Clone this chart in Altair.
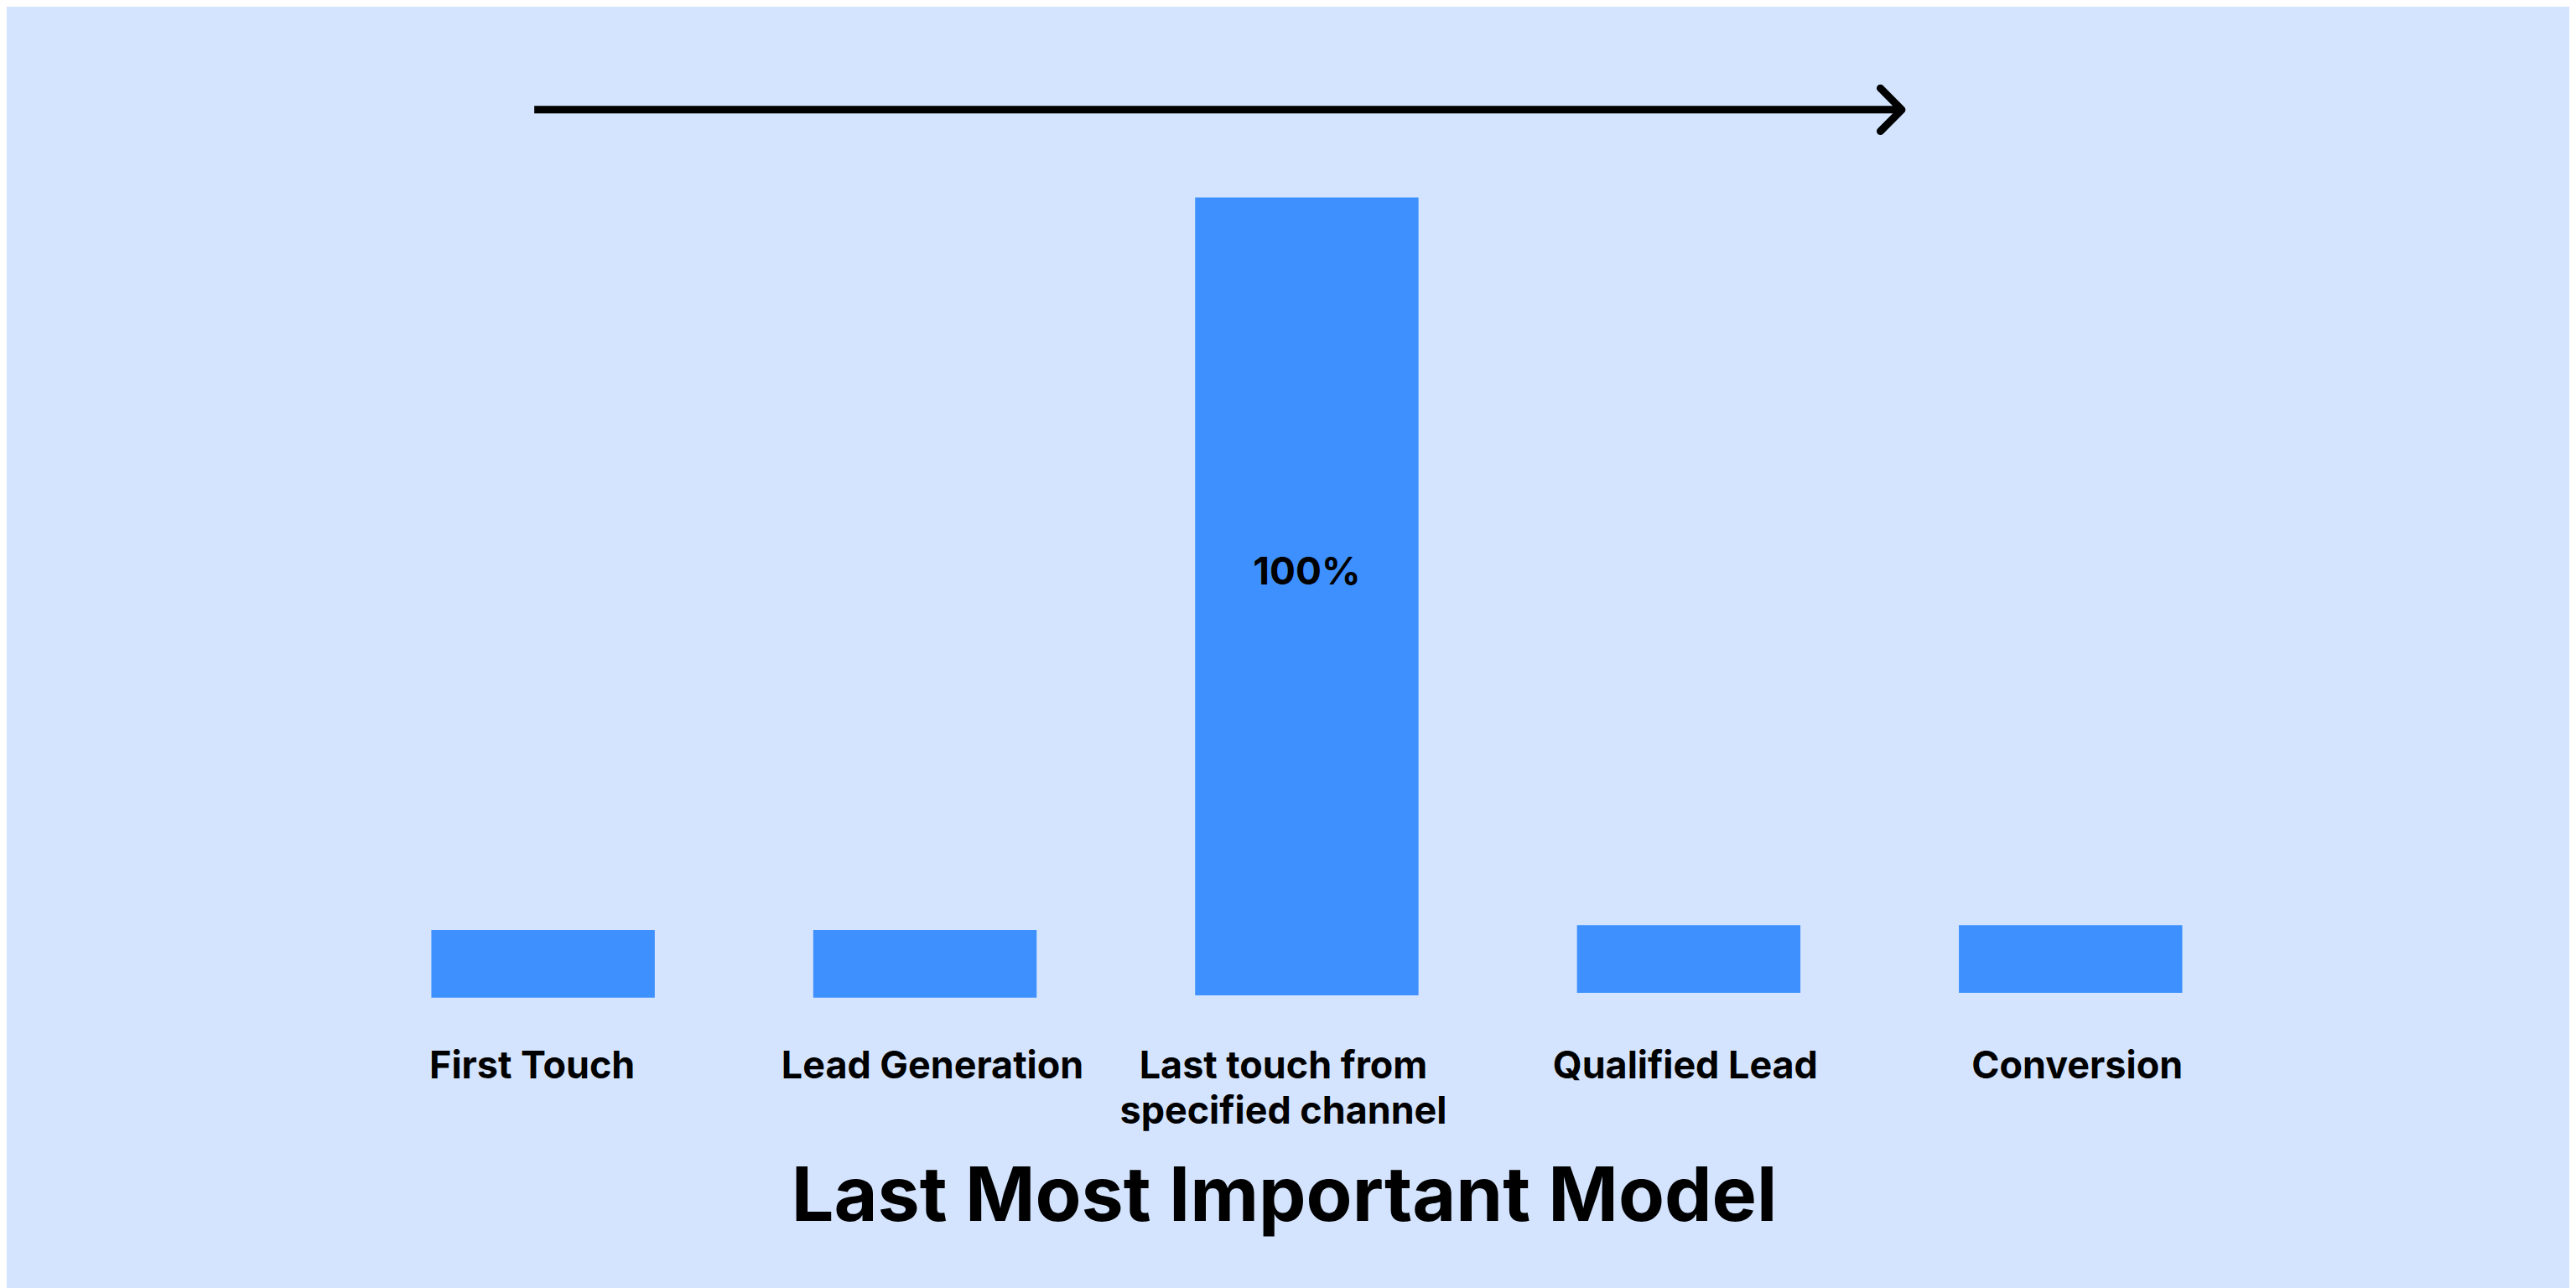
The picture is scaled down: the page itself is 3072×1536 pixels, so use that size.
import altair as alt
import pandas as pd

# ---- data ----
stages = ["First Touch", "Lead Generation", "Last touch from|specified channel",
          "Qualified Lead", "Conversion"]
bar_start = [-0.3, -0.3, 0.0, 0.3, 0.3]
bar_end = [8.2, 8.2, 100.0, 8.8, 8.8]
bar_text = ["", "", "100%", "", ""]

# arrow drawn in stage-index units (x) and value units (y)
shaft_x = [-0.023, 3.558]
shaft_y = [111.0, 111.0]
head_x = [3.502, 3.558, 3.502]
head_y = [113.7, 111.0, 108.3]

title_text = "Last Most Important Model"

BG = "#D4E4FE"
BAR = "#3D90FE"
FONT = "Inter"

# small horizontal nudges of the tick labels, as in the picture (style)
label_nudge = [-13, 9, -28, -4, 8]

bars_df = pd.DataFrame({"stage": stages, "start": bar_start, "end": bar_end, "txt": bar_text})
shaft_df = pd.DataFrame({"x": shaft_x, "y": shaft_y, "o": list(range(len(shaft_x)))})
head_df = pd.DataFrame({"x": head_x, "y": head_y, "o": list(range(len(head_x)))})

yscale = alt.Scale(domain=[0, 115], nice=False, zero=False)
xq = alt.Scale(domain=[-0.5, 4.5], nice=False, zero=False)

offset_cond = {
    "condition": [
        {"test": f"datum.value === '{s}'", "value": n}
        for s, n in zip(stages, label_nudge)
    ],
    "value": 0,
}

xband = alt.X(
    "stage:N", sort=None, title=None,
    scale=alt.Scale(paddingInner=0.415, paddingOuter=0.2075),
    axis=alt.Axis(
        labelExpr="split(datum.value, '|')",
        labelFont=FONT, labelFontSize=45, labelFontWeight=700, labelColor="#000000",
        labelAngle=0, labelBaseline="alphabetic", labelPadding=99, labelLineHeight=54,
        labelLimit=2000, ticks=False, tickSize=0, domain=False, grid=False,
        labelOffset=offset_cond,
    ),
)

bars = alt.Chart(bars_df).mark_bar(color=BAR).encode(
    x=xband,
    y=alt.Y("start:Q", scale=yscale, axis=None),
    y2="end:Q",
)

pct = alt.Chart(bars_df).transform_calculate(
    mid="(datum.start + datum.end) / 2"
).mark_text(
    font=FONT, fontSize=46, fontWeight=700, color="#000000", baseline="middle", dy=-28
).encode(
    x=alt.X("stage:N", sort=None),
    y=alt.Y("mid:Q", scale=yscale),
    text="txt:N",
)

shaft = alt.Chart(shaft_df).mark_line(
    color="#000000", strokeWidth=9, strokeCap="butt"
).encode(
    x=alt.X("x:Q", scale=xq, axis=None),
    y=alt.Y("y:Q", scale=yscale),
    order="o:Q",
)

head = alt.Chart(head_df).mark_line(
    color="#000000", strokeWidth=9, strokeCap="round", strokeJoin="round"
).encode(
    x=alt.X("x:Q", scale=xq, axis=None),
    y=alt.Y("y:Q", scale=yscale),
    order="o:Q",
)

base = alt.layer(bars, pct).resolve_scale(x="shared")
arrow = alt.layer(shaft, head)

chart = alt.layer(base, arrow).resolve_scale(x="independent").properties(
    width=2283,
    height=1097,
    padding={"left": 413, "top": 83, "right": 368, "bottom": 348},
    autosize=alt.AutoSizeParams(type="none"),
    title=alt.TitleParams(
        text=title_text, orient="bottom", anchor="middle", frame="group",
        font=FONT, fontSize=90, fontWeight=700, color="#000000",
        offset=108, dx=-27, baseline="alphabetic",
    ),
).configure(background=BG).configure_view(stroke=None).configure_axis(grid=False)

chart.save("out.html", embed_options={"renderer": "svg", "actions": False})
